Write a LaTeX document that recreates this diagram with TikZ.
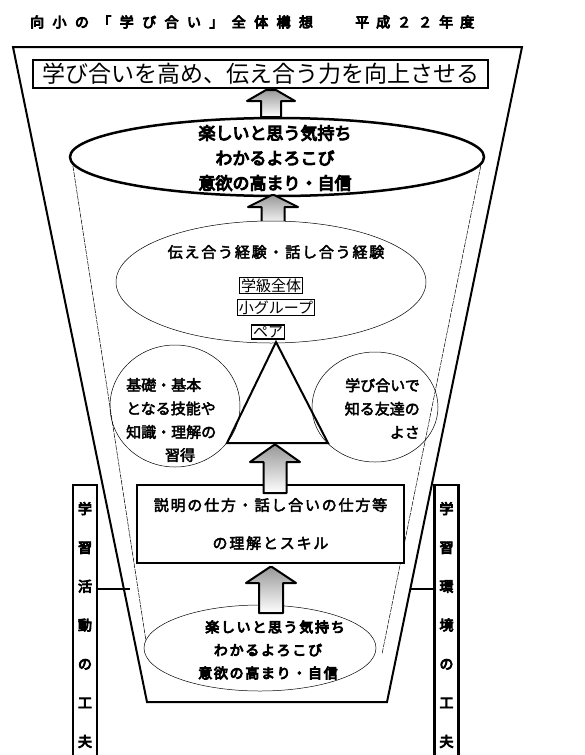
\documentclass[tikz,border=0pt]{standalone}
\usepackage{fontspec}
\setmainfont{Noto Sans CJK JP}
\newfontfamily\jp{Noto Sans CJK JP}
\newfontfamily\jpb[FakeBold=3]{Noto Sans CJK JP}
\newfontfamily\jph[FakeBold=6]{Noto Sans CJK JP}
\usetikzlibrary{shapes.geometric}
\newcommand\blockarrow[7]{% x, tip y, head base y, shaft bottom y, head half width, shaft half width, tip half width
  \shade[top color=gray!80, bottom color=white, draw=black, line width=2pt, line join=round]
  (#1-#7,#2) -- (#1+#7,#2) -- (#1+#5,#3) -- (#1+#6,#3) -- (#1+#6,#4) -- (#1-#6,#4) -- (#1-#6,#3) -- (#1-#5,#3) -- cycle;}
\tikzset{
  thickline/.style={line width=2pt},
  thinline/.style={line width=0.5pt},
  dashline/.style={line width=0.5pt, dash pattern=on 5pt off 1pt},
  labelbox/.style={draw, fill=white, line width=1.2pt, inner sep=1.2pt, font={\jp\fontsize{15}{17}\selectfont}},
  boldtext/.style={font={\jph\fontsize{17}{25}\selectfont}, align=center, inner sep=0pt},
  midtext/.style={font={\jpb\fontsize{15}{23.5}\selectfont}, inner sep=0pt},
  sidebar/.style={draw, line width=2.5pt, minimum width=24pt, minimum height=300pt, inner sep=0pt},
  sidetext/.style={font={\jph\fontsize{14}{38.8}\selectfont}, align=center, inner sep=0pt},
}
\begin{document}
\begin{tikzpicture}[x=1pt,y=-1pt]
\useasboundingbox (0,0) rectangle (584,755);
% title
\node[anchor=west, inner sep=0pt, font={\jph\fontsize{14}{16}\selectfont\addfontfeature{LetterSpace=60}}] (title) at (30,22) {向小の「学び合い」全体構想};
\node[anchor=west, inner sep=0pt, font={\jph\fontsize{14}{16}\selectfont\addfontfeature{LetterSpace=50}}] (year) at (355,22) {平成２２年度};
% outer cup
\coordinate (cupTL) at (13,47);
\coordinate (cupTR) at (522,47);
\coordinate (cupBR) at (387,702);
\coordinate (cupBL) at (147,702);
\draw[thickline, fill=white] (cupTL) -- (cupTR) -- (cupBR) -- (cupBL) -- cycle;
% inner thin cup
\coordinate (inTL) at (72,160);
\coordinate (inBL) at (148,654);
\coordinate (inTR) at (482,160);
\coordinate (inBR) at (382,654);
\draw[dashline] (inTL) -- (inBL);
\draw[dashline] (inTR) -- (inBR);
% side bars
\node[sidebar] (lbar) at (85,635) {};
\node[sidebar] (rbar) at (446.5,635) {};
\node[sidetext] (ltext) at (85,625) {学\\習\\活\\動\\の\\工\\夫};
\node[sidetext] (rtext) at (446.5,625) {学\\習\\環\\境\\の\\工\\夫};
\coordinate (lcup) at (130,589);
\coordinate (rcup) at (410,589);
\draw[thickline] (lbar.east |- lcup) -- (lcup);
\draw[thickline] (rcup) -- (rbar.west |- rcup);
% top goal box
\node[draw, line width=2pt, minimum width=455pt, minimum height=28pt, inner sep=0pt, font={\jp\fontsize{23}{25}\selectfont}] (goal) at (260.5,74) {学び合いを高め、伝え合う力を向上させる};
\blockarrow{271}{90}{101}{117}{24}{10}{5}
% big ellipse
\draw[line width=2.5pt, fill=white] (277,157) ellipse [x radius=207pt, y radius=39pt];
\node[boldtext] (big) at (275,158) {楽しいと思う気持ち\\わかるよろこび\\意欲の高まり・自信};
\blockarrow{273}{195}{207}{226}{25}{11.5}{1}
% middle ellipse
\draw[thinline, fill=white] (271,282) ellipse [x radius=155pt, y radius=61pt];
\node[font={\jpb\fontsize{15}{17}\selectfont\addfontfeature{LetterSpace=12}}, inner sep=0pt] (exp) at (276,252) {伝え合う経験・話し合う経験};
% triangle
\coordinate (triTop) at (276,342);
\coordinate (triL) at (227,443);
\coordinate (triR) at (328,443);
\draw[thickline, line join=miter] (triTop) -- (triR) -- (triL) -- cycle;
\node[labelbox] (zentai) at (271,285.5) {学級全体};
\node[labelbox] (group) at (276,307.5) {小グループ};
\node[labelbox] (pair) at (268,332) {ペア};
% circles
\draw[thinline] (175,406) ellipse [x radius=65pt, y radius=61pt];
\draw[thinline] (375,407) ellipse [x radius=63pt, y radius=55pt];
\node[midtext, anchor=west, align=left] (kiso) at (126,408.5) {基礎・基本\\となる技能や\\知識・理解の};
\node[midtext] (shutoku) at (180,455) {習得};
\node[midtext, anchor=east, align=right] (yosa) at (420,408.5) {学び合いで\\知る友達の\\よさ};
% skills box
\node[draw, line width=2.2pt, fill=white, minimum width=267pt, minimum height=78pt, inner sep=0pt, align=center, font={\jpb\fontsize{15}{38}\selectfont\addfontfeature{LetterSpace=12}}] (skill) at (270.5,524) {説明の仕方・話し合いの仕方等\\の理解とスキル};
\blockarrow{275}{445}{462}{493}{25}{11.5}{1}
% bottom ellipse
\draw[thinline, fill=white] (260,648) ellipse [x radius=116pt, y radius=43pt];
\blockarrow{271}{567}{583}{613}{25}{12}{1}
\node[font={\jph\fontsize{14}{23}\selectfont\addfontfeature{LetterSpace=12}}, align=center, inner sep=0pt] (small) at (268,650) {\hspace{14pt}楽しいと思う気持ち\\わかるよろこび\\意欲の高まり・自信};
\end{tikzpicture}
\end{document}
